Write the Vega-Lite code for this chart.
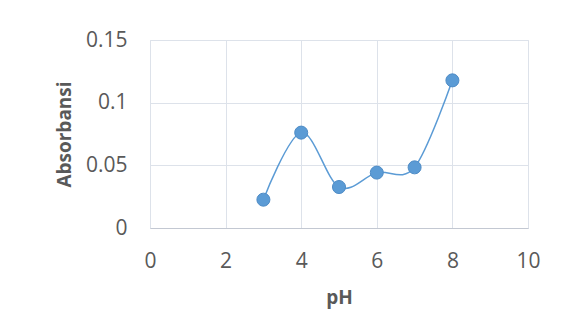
{
  "$schema": "https://vega.github.io/schema/vega-lite/v6.json",
  "width": 378,
  "height": 188,
  "autosize": {"type": "none"},
  "padding": {"left": 150, "top": 40, "right": 38, "bottom": 107},
  "background": "white",
  "data": {
    "values": [
      {"pH": 3, "Absorbansi": 0.0226},
      {"pH": 4, "Absorbansi": 0.0761},
      {"pH": 5, "Absorbansi": 0.0327},
      {"pH": 6, "Absorbansi": 0.0442},
      {"pH": 7, "Absorbansi": 0.0484},
      {"pH": 8, "Absorbansi": 0.1178}
    ]
  },
  "encoding": {
    "x": {
      "field": "pH",
      "type": "quantitative",
      "scale": {"domain": [0, 10], "nice": false},
      "axis": {
        "values": [0, 2, 4, 6, 8, 10],
        "labelExpr": "'' + datum.value",
        "labelFlush": false,
        "labelOverlap": false,
        "title": "pH",
        "grid": true,
        "gridColor": "#dde2ea",
        "domainColor": "#c3c8d2",
        "ticks": false,
        "labelPadding": 22,
        "titlePadding": 17
      }
    },
    "y": {
      "field": "Absorbansi",
      "type": "quantitative",
      "scale": {"domain": [0, 0.15], "nice": false},
      "axis": {
        "values": [0, 0.05, 0.1, 0.15],
        "labelExpr": "'' + datum.value",
        "labelFlush": false,
        "labelOverlap": false,
        "title": "Absorbansi",
        "grid": true,
        "gridColor": "#dde2ea",
        "domain": false,
        "ticks": false,
        "labelPadding": 23,
        "titlePadding": 11
      }
    }
  },
  "layer": [
    {
      "mark": {"type": "line", "interpolate": "cardinal", "color": "#5b9bd5", "strokeWidth": 1.5}
    },
    {
      "mark": {"type": "point", "shape": "circle", "filled": true, "size": 170, "color": "#5b9bd5", "opacity": 1, "stroke": "#4f8cc6", "strokeWidth": 1}
    }
  ],
  "config": {
    "view": {"stroke": "#dde2ea"},
    "axis": {
      "labelFont": "Open Sans",
      "labelFontSize": 21,
      "labelColor": "#595959",
      "titleFont": "Open Sans",
      "titleFontSize": 19,
      "titleFontWeight": "bold",
      "titleColor": "#595959"
    }
  }
}
